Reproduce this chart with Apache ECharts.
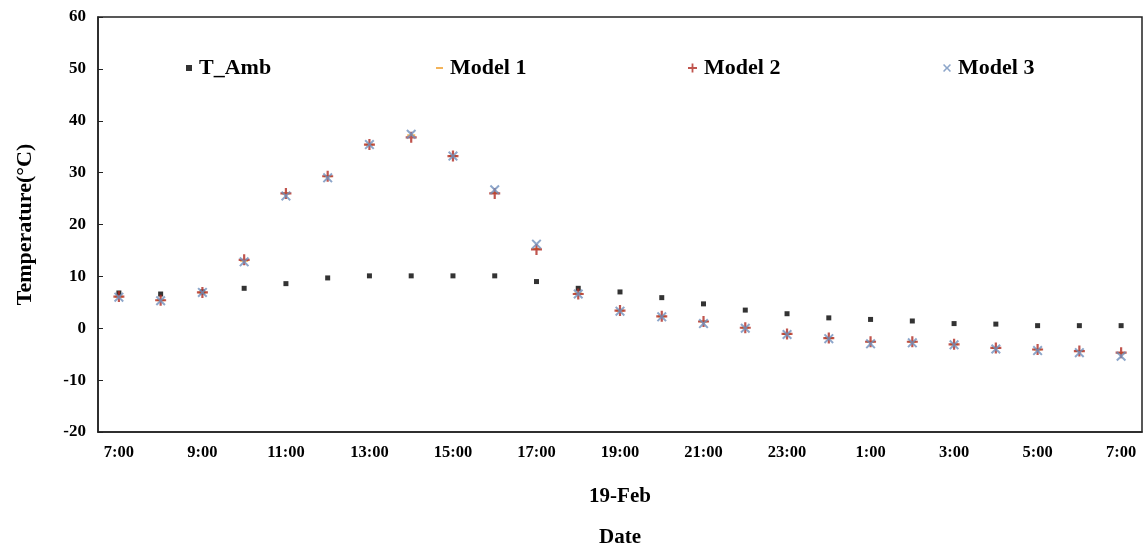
<!DOCTYPE html>
<html>
<head>
<meta charset="utf-8">
<title>Temperature</title>
<script src="https://cdn.jsdelivr.net/npm/echarts@6/dist/echarts.min.js"></script>
<style>
    html, body { margin: 0; padding: 0; background: #fff; }
    #chart { width: 1147px; height: 551px; }
</style>
</head>
<body>
<div id="chart"></div>
<script>
// hourly from 7:00 on 19-Feb to 7:00 next day
const hours = ['7:00', '8:00', '9:00', '10:00', '11:00', '12:00', '13:00', '14:00', '15:00', '16:00',
    '17:00', '18:00', '19:00', '20:00', '21:00', '22:00', '23:00', '0:00', '1:00', '2:00',
    '3:00', '4:00', '5:00', '6:00', '7:00'];

const tAmb = [6.8, 6.6, 7.0, 7.7, 8.6, 9.7, 10.1, 10.1, 10.1, 10.1, 9.0, 7.7, 7.0, 5.9, 4.7,
    3.5, 2.8, 2.0, 1.7, 1.4, 0.9, 0.8, 0.5, 0.5, 0.5];
const model1 = [6.1, 5.4, 6.9, 13.0, 26.0, 29.3, 35.4, 37.2, 33.2, 26.1, 15.3, 6.7, 3.4, 2.3, 1.3,
    0.1, -1.1, -1.9, -2.6, -2.6, -3.1, -3.8, -4.1, -4.4, -4.8];
const model2 = [6.1, 5.4, 6.9, 13.2, 26.0, 29.3, 35.4, 36.8, 33.2, 26.0, 15.2, 6.6, 3.4, 2.3, 1.3,
    0.1, -1.1, -1.9, -2.6, -2.6, -3.1, -3.8, -4.1, -4.4, -4.7];
const model3 = [6.0, 5.3, 6.9, 12.8, 25.5, 29.0, 35.4, 37.4, 33.2, 26.7, 16.2, 6.6, 3.3, 2.2, 0.9,
    0.0, -1.2, -2.0, -3.0, -2.8, -3.2, -4.0, -4.3, -4.7, -5.4];

const font = '"Liberation Serif", "Times New Roman", serif';
const plusPath = 'path://M4,0H6V10H4ZM0,4H10V6H0Z';
const crossPath = 'path://M1.4,0L5,3.6L8.6,0L10,1.4L6.4,5L10,8.6L8.6,10L5,6.4L1.4,10L0,8.6L3.6,5L0,1.4Z';

const colors = {
    amb: '#000000',
    m1: '#f0a030',
    m2: '#b02a22',
    m3: '#7090bd'
};

function legendAt(name, left, icon, w, h) {
    return {
        data: [{ name: name, icon: icon }],
        left: left,
        top: 52,
        itemWidth: w,
        itemHeight: h,
        itemGap: 0,
        textStyle: {
            fontFamily: font,
            fontWeight: 'bold',
            fontSize: 22,
            color: '#000',
            padding: [0, 0, 0, 2]
        }
    };
}

const chart = echarts.init(document.getElementById('chart'));
chart.setOption({
    animation: false,
    backgroundColor: '#fff',
    grid: {
        left: 98,
        right: 5,
        top: 17,
        bottom: 119,
        outerBoundsMode: 'none',
        show: true,
        borderColor: '#222',
        borderWidth: 1.5
    },
    legend: [
        legendAt('T_Amb', 181, 'rect', 6, 6),
        legendAt('Model 1', 431, 'rect', 7, 2),
        legendAt('Model 2', 683, plusPath, 9, 9),
        legendAt('Model 3', 938, crossPath, 8, 8)
    ],
    xAxis: {
        type: 'category',
        data: hours,
        boundaryGap: true,
        name: '19-Feb\nDate',
        nameLocation: 'middle',
        nameGap: 44,
        nameTextStyle: {
            fontFamily: font,
            fontWeight: 'bold',
            fontSize: 21,
            color: '#000',
            lineHeight: 41
        },
        axisLine: { onZero: false, lineStyle: { color: '#222', width: 1.5 } },
        axisTick: { show: false },
        axisLabel: {
            interval: 1,
            margin: 12,
            fontFamily: font,
            fontWeight: 'bold',
            fontSize: 16.5,
            color: '#000'
        },
        splitLine: { show: false }
    },
    yAxis: {
        type: 'value',
        min: -20,
        max: 60,
        interval: 10,
        name: 'Temperature(°C)',
        nameLocation: 'middle',
        nameGap: 62,
        nameTextStyle: {
            fontFamily: font,
            fontWeight: 'bold',
            fontSize: 22,
            color: '#000'
        },
        axisLine: { show: true, lineStyle: { color: '#222', width: 1.5 } },
        axisTick: { show: true, inside: true, length: 5, lineStyle: { color: '#222' } },
        axisLabel: {
            margin: 12,
            fontFamily: font,
            fontWeight: 'bold',
            fontSize: 17,
            color: '#000'
        },
        splitLine: { show: false }
    },
    series: [
        {
            name: 'T_Amb',
            type: 'scatter',
            data: tAmb,
            symbol: 'rect',
            symbolSize: 5,
            itemStyle: { color: colors.amb }
        },
        {
            name: 'Model 1',
            type: 'scatter',
            data: model1,
            symbol: 'rect',
            symbolSize: [8, 2],
            itemStyle: { color: colors.m1 }
        },
        {
            name: 'Model 2',
            type: 'scatter',
            data: model2,
            symbol: plusPath,
            symbolSize: 11,
            itemStyle: { color: colors.m2 }
        },
        {
            name: 'Model 3',
            type: 'scatter',
            data: model3,
            symbol: crossPath,
            symbolSize: 10,
            itemStyle: { color: colors.m3 }
        }
    ]
});
</script>
</body>
</html>
